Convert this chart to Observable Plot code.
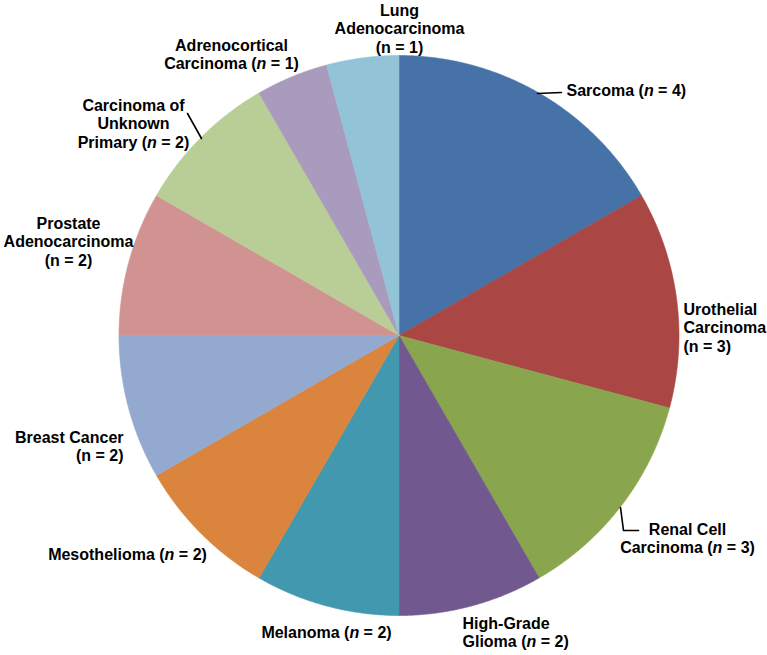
<!DOCTYPE html>
<html><head><meta charset="utf-8">
<script src="https://cdn.jsdelivr.net/npm/d3@7"></script>
<script src="https://cdn.jsdelivr.net/npm/@observablehq/plot@0.6"></script>
<style>html,body{margin:0;padding:0;background:#fff}#chart svg{display:block}</style>
</head><body><div id="chart"></div>
<script>
// ---- data ----
const categories = ["Sarcoma","Urothelial Carcinoma","Renal Cell Carcinoma","High-Grade Glioma","Melanoma","Mesothelioma","Breast Cancer","Prostate Adenocarcinoma","Carcinoma of Unknown Primary","Adrenocortical Carcinoma","Lung Adenocarcinoma"];
const counts = [4,3,3,2,2,2,2,2,2,1,1];
const labelLines = [
  ["Sarcoma (n = 4)"],
  ["Urothelial","Carcinoma","(n = 3)"],
  ["Renal Cell","Carcinoma (n = 3)"],
  ["High-Grade","Glioma (n = 2)"],
  ["Melanoma (n = 2)"],
  ["Mesothelioma (n = 2)"],
  ["Breast Cancer","(n = 2)"],
  ["Prostate","Adenocarcinoma","(n = 2)"],
  ["Carcinoma of","Unknown","Primary (n = 2)"],
  ["Adrenocortical","Carcinoma (n = 1)"],
  ["Lung","Adenocarcinoma","(n = 1)"]
];
// ---- style / layout ----
const colors = ["#4672A8","#AA4744","#89A54E","#71588F","#4198AF","#DB843D","#93A9CF","#D19392","#B9CD96","#A99BBD","#92C3D6"];
const cx = 398.5, cy = 335, R = 280;
const labelPos = [ // x, first baseline, anchor
  [566, 95, "start"],
  [683, 314, "start"],
  [687, 534, "middle"],
  [462, 628, "start"],
  [326, 637, "middle"],
  [127, 559, "middle"],
  [123, 442, "end"],
  [68, 228, "middle"],
  [133, 110, "middle"],
  [231, 50, "middle"],
  [399, 15, "middle"]
];
const lineStep = 18.6;
const leaders = [
  [[537,93],[561,92]],
  [[620,507],[623,530],[638,530]],
  [[187,113],[201,138]]
];

// ---- build ----
const arcs = d3.pie().sort(null).value(d => d)(counts);
const slicePts = [];
arcs.forEach((a, i) => {
  const name = categories[i];
  slicePts.push({name, x: cx, y: cy});
  const steps = Math.max(2, Math.ceil((a.endAngle - a.startAngle) / 0.005));
  for (let k = 0; k <= steps; ++k) {
    const t = a.startAngle + (a.endAngle - a.startAngle) * k / steps;
    slicePts.push({name, x: cx + R * Math.sin(t), y: cy - R * Math.cos(t)});
  }
  slicePts.push({name, x: cx, y: cy});
});
const textRows = [];
labelLines.forEach((lines, i) => {
  const [lx, ly, anchor] = labelPos[i];
  lines.forEach((s, j) => textRows.push({s, x: lx, y: ly + j * lineStep, anchor}));
});
const leaderPts = [];
leaders.forEach((pts, i) => pts.forEach(([x, y]) => leaderPts.push({id: i, x, y})));

const anchors = ["start","middle","end"];
const plot = Plot.plot({
  width: 767, height: 655, margin: 0,
  x: {domain: [0, 767], range: [0, 767], axis: null},
  y: {domain: [0, 655], range: [0, 655], axis: null},
  color: {domain: categories, range: colors},
  style: {fontFamily: "'Liberation Sans', Arial, sans-serif", background: "#fff"},
  marks: [
    Plot.line(slicePts, {x: "x", y: "y", z: "name", fill: "name", stroke: "name", strokeWidth: 0.6, curve: "linear"}),
    Plot.line(leaderPts, {x: "x", y: "y", z: "id", stroke: "#000", strokeWidth: 1.6}),
    ...anchors.map(an => Plot.text(textRows.filter(d => d.anchor === an), {
      x: "x", y: "y", text: "s", textAnchor: an, lineAnchor: "middle", dy: -5.12,
      fontSize: 16, fontWeight: "bold", fill: "#000"
    }))
  ]
});
document.getElementById("chart").appendChild(plot);
// italic "n" only where the line does not start with "(" (those keep plain text so the parenthesis is never lost)
const NS = "http://www.w3.org/2000/svg";
for (const t of plot.querySelectorAll("text")) {
  const s = t.textContent;
  const idx = s.indexOf("(n ");
  if (idx <= 0) continue;
  while (t.firstChild) t.removeChild(t.firstChild);
  t.appendChild(document.createTextNode(s.slice(0, idx + 1)));
  const it = document.createElementNS(NS, "tspan");
  it.setAttribute("font-style", "italic");
  it.textContent = "n";
  t.appendChild(it);
  t.appendChild(document.createTextNode(s.slice(idx + 2)));
}
</script>
</body></html>
